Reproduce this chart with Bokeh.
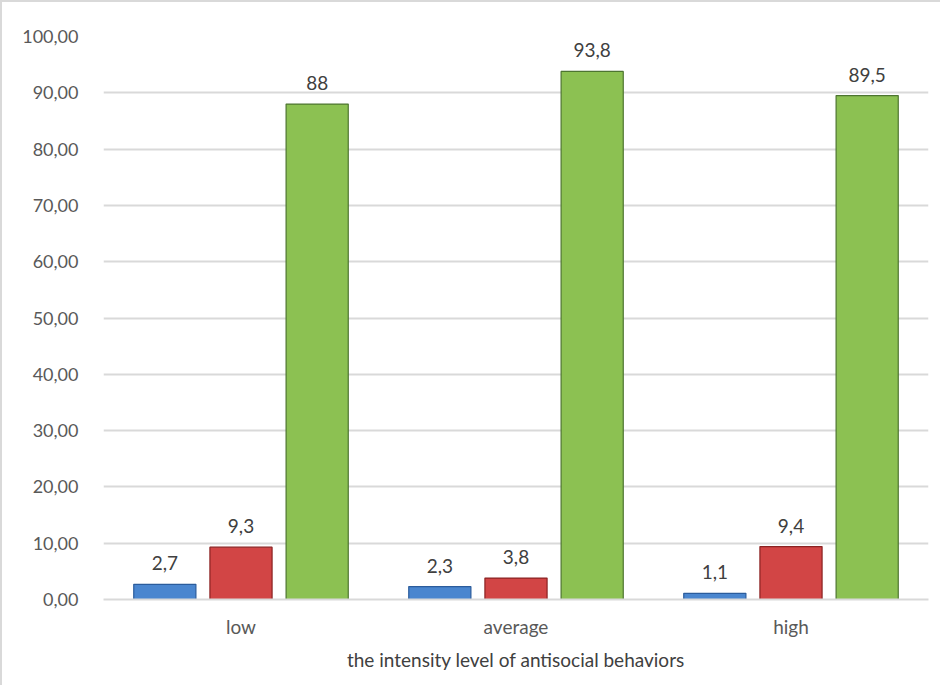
from bokeh.plotting import figure
from bokeh.models import FactorRange, Range1d, FixedTicker, ColumnDataSource, LabelSet
from bokeh.transform import dodge
from bokeh.core.properties import value
from bokeh.embed import file_html
from bokeh.resources import INLINE

categories = ["low", "average", "high"]
series_blue = [2.7, 2.3, 1.1]
series_red = [9.3, 3.8, 9.4]
series_green = [88.0, 93.8, 89.5]
y_ticks = [0, 10, 20, 30, 40, 50, 60, 70, 80, 90, 100]
y_tick_labels = ["0,00", "10,00", "20,00", "30,00", "40,00", "50,00",
                 "60,00", "70,00", "80,00", "90,00", "100,00"]
x_title = "the intensity level of antisocial behaviors"

FONT = "Lato"

def fmt(v):
    return f"{v:g}".replace(".", ",")

p = figure(width=940, height=685, output_backend="svg", toolbar_location=None,
           x_range=FactorRange(factors=categories, range_padding=0),
           y_range=Range1d(0, 100),
           min_border_left=101, min_border_right=14, min_border_top=34, min_border_bottom=88,
           styles={"border-top": "2px solid #d9d9d9", "border-left": "2px solid #d9d9d9"})
p.outline_line_color = None
p.xgrid.grid_line_color = None
p.ygrid.grid_line_color = "#d9d9d9"
p.ygrid.grid_line_width = 2

series = [
    (series_blue, -0.277, "#4a86cf", "#2b5c9c"),
    (series_red, 0.0, "#d24545", "#8a2222"),
    (series_green, 0.277, "#8cc152", "#4d7530"),
]
for vals, off, fill, line in series:
    src = ColumnDataSource(dict(cat=categories, val=vals, lab=[fmt(v) for v in vals]))
    xd = dodge("cat", off, range=p.x_range)
    p.vbar(x=xd, top="val", bottom=0, width=0.226, source=src,
           fill_color=fill, line_color=line, line_width=1.2)
    p.add_layout(LabelSet(x=xd, y="val", text="lab", source=src,
                          text_align="center", text_baseline="alphabetic",
                          y_offset=14, text_font=value(FONT), text_font_size="19px",
                          text_color="#404040"))

p.yaxis.ticker = FixedTicker(ticks=y_ticks)
p.yaxis.major_label_overrides = {t: l for t, l in zip(y_ticks, y_tick_labels)}
p.yaxis.axis_line_color = None
p.yaxis.major_tick_line_color = None
p.yaxis.minor_tick_line_color = None
p.yaxis.major_label_standoff = 19
p.yaxis.major_label_text_font = FONT
p.yaxis.major_label_text_font_size = "18px"
p.yaxis.major_label_text_color = "#595959"

p.xaxis.axis_line_color = "#d9d9d9"
p.xaxis.axis_line_width = 2
p.xaxis.major_tick_line_color = None
p.xaxis.minor_tick_line_color = None
p.xaxis.major_label_standoff = 9
p.xaxis.major_label_text_font = FONT
p.xaxis.major_label_text_font_size = "19px"
p.xaxis.major_label_text_color = "#595959"
p.xaxis.axis_label = x_title
p.xaxis.axis_label_standoff = 7
p.xaxis.axis_label_text_font = FONT
p.xaxis.axis_label_text_font_style = "normal"
p.xaxis.axis_label_text_font_size = "19px"
p.xaxis.axis_label_text_color = "#404040"

open("out.html", "w").write(file_html(p, INLINE))
